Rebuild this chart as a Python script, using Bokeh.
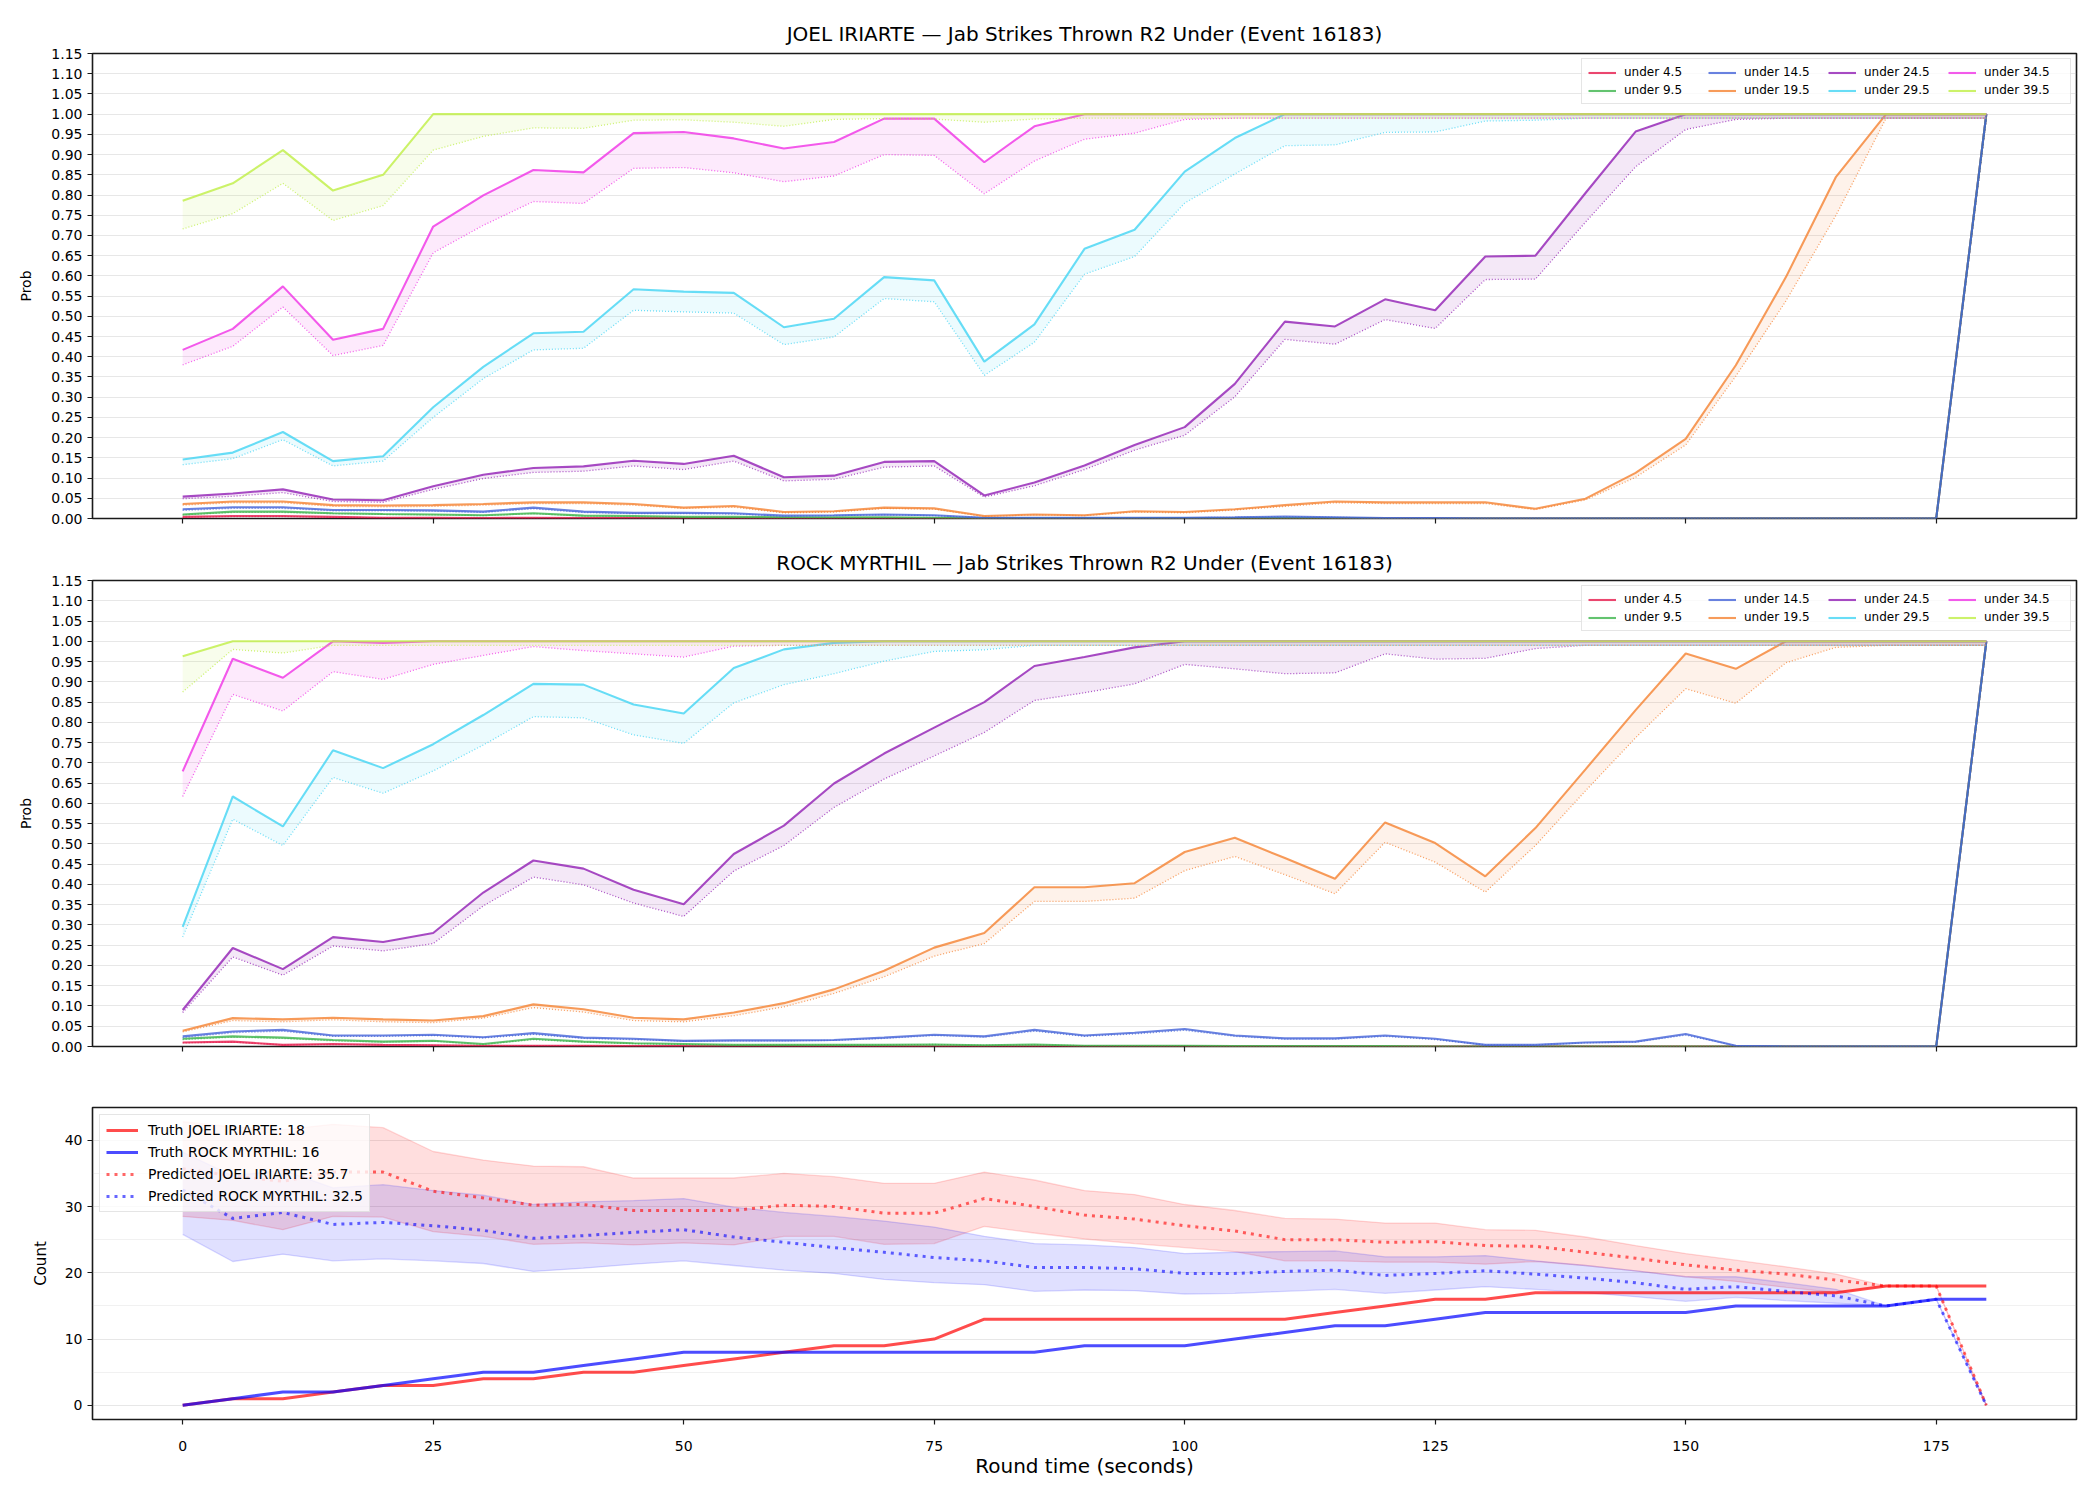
from bokeh.plotting import figure
from bokeh.models import (Range1d, FixedTicker, NumeralTickFormatter, Legend, LegendItem,
                          CustomJSTickFormatter)
from bokeh.layouts import column
from bokeh.embed import file_html
from bokeh.resources import INLINE

FONT = "DejaVu Sans"

# ---------------------------------------------------------------- data
seconds = [0, 5, 10, 15, 20, 25, 30, 35, 40, 45,
           50, 55, 60, 65, 70, 75, 80, 85, 90, 95,
           100, 105, 110, 115, 120, 125, 130, 135, 140, 145,
           150, 155, 160, 165, 170, 175, 180]

lines_labels = ["under 4.5", "under 9.5", "under 14.5", "under 19.5",
                "under 24.5", "under 29.5", "under 34.5", "under 39.5"]
line_colors = ["#e6194b", "#3cb44b", "#4363d8", "#f58231",
               "#911eb4", "#42d4f4", "#f032e6", "#bfef45"]

prob_ticks = [0.0, 0.05, 0.10, 0.15, 0.20, 0.25, 0.30, 0.35, 0.40, 0.45, 0.50, 0.55,
              0.60, 0.65, 0.70, 0.75, 0.80, 0.85, 0.90, 0.95, 1.00, 1.05, 1.10, 1.15]
time_ticks = [0, 25, 50, 75, 100, 125, 150, 175]
count_ticks = [0, 10, 20, 30, 40]
count_minor = [5, 15, 25, 35]

# JOEL IRIARTE: live probability (solid) and adjusted probability (dotted)
joel_u4 = [0.004, 0.006, 0.006, 0.004, 0.002, 0.002, 0.001, 0.002, 0.001, 0.001,
           0.001, 0.001, 0.0, 0.0, 0.0, 0.0, 0.0, 0.0, 0.0, 0.0,
           0.0, 0.0, 0.0, 0.0, 0.0, 0.0, 0.0, 0.0, 0.0, 0.0,
           0.0, 0.0, 0.0, 0.0, 0.0, 0.0, 1.0]
joel_u4_adj = [0.003, 0.005, 0.005, 0.003, 0.002, 0.001, 0.001, 0.001, 0.001, 0.001,
               0.001, 0.001, 0.0, 0.0, 0.0, 0.0, 0.0, 0.0, 0.0, 0.0,
               0.0, 0.0, 0.0, 0.0, 0.0, 0.0, 0.0, 0.0, 0.0, 0.0,
               0.0, 0.0, 0.0, 0.0, 0.0, 0.0, 0.99]
joel_u9 = [0.010, 0.017, 0.017, 0.013, 0.011, 0.010, 0.008, 0.013, 0.007, 0.006,
           0.004, 0.004, 0.003, 0.003, 0.003, 0.002, 0.001, 0.001, 0.001, 0.001,
           0.001, 0.001, 0.001, 0.001, 0.0, 0.0, 0.0, 0.0, 0.0, 0.0,
           0.0, 0.0, 0.0, 0.0, 0.0, 0.0, 1.0]
joel_u9_adj = [0.009, 0.015, 0.015, 0.012, 0.010, 0.009, 0.007, 0.012, 0.006, 0.005,
               0.004, 0.003, 0.003, 0.002, 0.002, 0.002, 0.001, 0.001, 0.001, 0.001,
               0.001, 0.001, 0.001, 0.001, 0.0, 0.0, 0.0, 0.0, 0.0, 0.0,
               0.0, 0.0, 0.0, 0.0, 0.0, 0.0, 0.99]
joel_u14 = [0.023, 0.028, 0.028, 0.021, 0.021, 0.020, 0.017, 0.027, 0.017, 0.014,
            0.014, 0.013, 0.007, 0.008, 0.010, 0.008, 0.002, 0.002, 0.002, 0.002,
            0.002, 0.003, 0.005, 0.003, 0.001, 0.001, 0.0, 0.0, 0.0, 0.0,
            0.0, 0.0, 0.0, 0.0, 0.0, 0.0, 1.0]
joel_u14_adj = [0.020, 0.025, 0.025, 0.019, 0.019, 0.018, 0.015, 0.024, 0.015, 0.012,
                0.012, 0.011, 0.006, 0.007, 0.009, 0.007, 0.002, 0.002, 0.002, 0.002,
                0.002, 0.003, 0.004, 0.003, 0.001, 0.001, 0.0, 0.0, 0.0, 0.0,
                0.0, 0.0, 0.0, 0.0, 0.0, 0.0, 0.99]
joel_u19 = [0.036, 0.042, 0.042, 0.033, 0.032, 0.033, 0.036, 0.040, 0.040, 0.036,
            0.027, 0.031, 0.016, 0.018, 0.027, 0.025, 0.006, 0.010, 0.008, 0.018,
            0.016, 0.023, 0.033, 0.042, 0.040, 0.040, 0.040, 0.024, 0.049, 0.113,
            0.197, 0.379, 0.597, 0.845, 1.0, 1.0, 1.0]
joel_u19_adj = [0.033, 0.039, 0.039, 0.030, 0.029, 0.030, 0.033, 0.037, 0.037, 0.033,
                0.025, 0.028, 0.014, 0.016, 0.025, 0.023, 0.005, 0.009, 0.007, 0.016,
                0.014, 0.021, 0.030, 0.039, 0.037, 0.037, 0.037, 0.022, 0.046, 0.102,
                0.182, 0.352, 0.538, 0.750, 0.99, 0.99, 0.99]
joel_u24 = [0.054, 0.062, 0.072, 0.047, 0.045, 0.080, 0.108, 0.125, 0.129, 0.143,
            0.135, 0.155, 0.102, 0.106, 0.140, 0.142, 0.057, 0.089, 0.131, 0.182,
            0.226, 0.333, 0.487, 0.475, 0.542, 0.515, 0.648, 0.650, 0.805, 0.957,
            1.0, 1.0, 1.0, 1.0, 1.0, 1.0, 1.0]
joel_u24_adj = [0.049, 0.055, 0.064, 0.042, 0.040, 0.072, 0.099, 0.114, 0.117, 0.130,
                0.121, 0.142, 0.093, 0.097, 0.127, 0.130, 0.053, 0.081, 0.121, 0.169,
                0.206, 0.301, 0.443, 0.431, 0.492, 0.470, 0.591, 0.592, 0.733, 0.870,
                0.962, 0.987, 0.99, 0.99, 0.99, 0.99, 0.99]
joel_u29 = [0.146, 0.163, 0.214, 0.142, 0.154, 0.275, 0.375, 0.458, 0.462, 0.567,
            0.561, 0.558, 0.473, 0.494, 0.597, 0.589, 0.388, 0.480, 0.667, 0.714,
            0.858, 0.941, 1.0, 1.0, 1.0, 1.0, 1.0, 1.0, 1.0, 1.0,
            1.0, 1.0, 1.0, 1.0, 1.0, 1.0, 1.0]
joel_u29_adj = [0.133, 0.148, 0.195, 0.130, 0.142, 0.250, 0.346, 0.417, 0.421, 0.515,
                0.511, 0.508, 0.430, 0.449, 0.544, 0.536, 0.354, 0.436, 0.604, 0.648,
                0.780, 0.852, 0.922, 0.924, 0.955, 0.956, 0.983, 0.985, 0.99, 0.99,
                0.99, 0.99, 0.99, 0.99, 0.99, 0.99, 0.99]
joel_u34 = [0.417, 0.469, 0.574, 0.442, 0.469, 0.722, 0.799, 0.862, 0.856, 0.953,
            0.956, 0.940, 0.915, 0.931, 0.989, 0.989, 0.881, 0.970, 1.0, 1.0,
            1.0, 1.0, 1.0, 1.0, 1.0, 1.0, 1.0, 1.0, 1.0, 1.0,
            1.0, 1.0, 1.0, 1.0, 1.0, 1.0, 1.0]
joel_u34_adj = [0.380, 0.426, 0.523, 0.403, 0.428, 0.657, 0.725, 0.784, 0.779, 0.866,
                0.868, 0.855, 0.833, 0.847, 0.900, 0.898, 0.803, 0.884, 0.938, 0.953,
                0.987, 0.99, 0.99, 0.99, 0.99, 0.99, 0.99, 0.99, 0.99, 0.99,
                0.99, 0.99, 0.99, 0.99, 0.99, 0.99, 0.99]
joel_u39 = [0.786, 0.829, 0.911, 0.811, 0.850, 1.0, 1.0, 1.0, 1.0, 1.0,
            1.0, 1.0, 1.0, 1.0, 1.0, 1.0, 1.0, 1.0, 1.0, 1.0,
            1.0, 1.0, 1.0, 1.0, 1.0, 1.0, 1.0, 1.0, 1.0, 1.0,
            1.0, 1.0, 1.0, 1.0, 1.0, 1.0, 1.0]
joel_u39_adj = [0.716, 0.754, 0.829, 0.737, 0.774, 0.911, 0.945, 0.966, 0.965, 0.985,
                0.986, 0.980, 0.970, 0.987, 0.989, 0.988, 0.980, 0.988, 0.99, 0.99,
                0.99, 0.99, 0.99, 0.99, 0.99, 0.99, 0.99, 0.99, 0.99, 0.99,
                0.99, 0.99, 0.99, 0.99, 0.99, 0.99, 0.99]

# ROCK MYRTHIL
rock_u4 = [0.010, 0.012, 0.004, 0.006, 0.004, 0.003, 0.002, 0.002, 0.002, 0.001,
           0.001, 0.001, 0.001, 0.0, 0.0, 0.0, 0.0, 0.0, 0.0, 0.0,
           0.0, 0.0, 0.0, 0.0, 0.0, 0.0, 0.0, 0.0, 0.0, 0.0,
           0.0, 0.0, 0.0, 0.0, 0.0, 0.0, 1.0]
rock_u4_adj = [0.009, 0.011, 0.004, 0.005, 0.004, 0.003, 0.002, 0.002, 0.002, 0.001,
               0.001, 0.001, 0.001, 0.0, 0.0, 0.0, 0.0, 0.0, 0.0, 0.0,
               0.0, 0.0, 0.0, 0.0, 0.0, 0.0, 0.0, 0.0, 0.0, 0.0,
               0.0, 0.0, 0.0, 0.0, 0.0, 0.0, 0.99]
rock_u9 = [0.019, 0.025, 0.022, 0.016, 0.012, 0.014, 0.006, 0.019, 0.012, 0.008,
           0.006, 0.004, 0.004, 0.004, 0.004, 0.005, 0.003, 0.005, 0.002, 0.002,
           0.002, 0.001, 0.001, 0.001, 0.001, 0.0, 0.0, 0.0, 0.0, 0.0,
           0.0, 0.0, 0.0, 0.0, 0.0, 0.0, 1.0]
rock_u9_adj = [0.017, 0.023, 0.020, 0.014, 0.011, 0.013, 0.005, 0.017, 0.011, 0.007,
               0.005, 0.004, 0.004, 0.004, 0.004, 0.005, 0.003, 0.004, 0.002, 0.002,
               0.002, 0.001, 0.001, 0.001, 0.001, 0.0, 0.0, 0.0, 0.0, 0.0,
               0.0, 0.0, 0.0, 0.0, 0.0, 0.0, 0.99]
rock_u14 = [0.025, 0.037, 0.041, 0.027, 0.027, 0.029, 0.023, 0.033, 0.022, 0.019,
            0.014, 0.015, 0.015, 0.016, 0.022, 0.029, 0.025, 0.041, 0.027, 0.034,
            0.043, 0.027, 0.020, 0.020, 0.027, 0.019, 0.004, 0.004, 0.010, 0.012,
            0.031, 0.002, 0.0, 0.0, 0.0, 0.0, 1.0]
rock_u14_adj = [0.022, 0.034, 0.038, 0.025, 0.025, 0.027, 0.021, 0.030, 0.020, 0.017,
                0.013, 0.014, 0.014, 0.015, 0.020, 0.027, 0.023, 0.038, 0.025, 0.031,
                0.040, 0.025, 0.018, 0.018, 0.025, 0.017, 0.004, 0.004, 0.009, 0.011,
                0.028, 0.002, 0.0, 0.0, 0.0, 0.0, 0.99]
rock_u19 = [0.039, 0.070, 0.067, 0.071, 0.067, 0.064, 0.075, 0.104, 0.092, 0.071,
            0.067, 0.084, 0.107, 0.141, 0.187, 0.244, 0.280, 0.393, 0.393, 0.403,
            0.480, 0.515, 0.465, 0.414, 0.553, 0.502, 0.420, 0.539, 0.684, 0.830,
            0.970, 0.932, 1.0, 1.0, 1.0, 1.0, 1.0]
rock_u19_adj = [0.036, 0.064, 0.061, 0.066, 0.061, 0.059, 0.070, 0.096, 0.085, 0.064,
                0.061, 0.076, 0.098, 0.131, 0.172, 0.223, 0.254, 0.358, 0.358, 0.366,
                0.434, 0.469, 0.424, 0.377, 0.504, 0.455, 0.381, 0.496, 0.631, 0.762,
                0.883, 0.847, 0.947, 0.985, 0.99, 0.99, 0.99]
rock_u24 = [0.090, 0.243, 0.191, 0.270, 0.258, 0.280, 0.380, 0.459, 0.439, 0.387,
            0.351, 0.475, 0.545, 0.649, 0.723, 0.787, 0.850, 0.939, 0.961, 0.985,
            1.0, 1.0, 1.0, 1.0, 1.0, 1.0, 1.0, 1.0, 1.0, 1.0,
            1.0, 1.0, 1.0, 1.0, 1.0, 1.0, 1.0]
rock_u24_adj = [0.084, 0.221, 0.176, 0.248, 0.236, 0.254, 0.347, 0.418, 0.399, 0.354,
                0.321, 0.433, 0.496, 0.590, 0.660, 0.717, 0.775, 0.854, 0.873, 0.895,
                0.943, 0.932, 0.920, 0.922, 0.969, 0.956, 0.958, 0.982, 0.99, 0.99,
                0.99, 0.99, 0.99, 0.99, 0.99, 0.99, 0.99]
rock_u29 = [0.295, 0.617, 0.543, 0.731, 0.687, 0.746, 0.818, 0.895, 0.893, 0.844,
            0.822, 0.934, 0.980, 0.996, 1.0, 1.0, 1.0, 1.0, 1.0, 1.0,
            1.0, 1.0, 1.0, 1.0, 1.0, 1.0, 1.0, 1.0, 1.0, 1.0,
            1.0, 1.0, 1.0, 1.0, 1.0, 1.0, 1.0]
rock_u29_adj = [0.270, 0.561, 0.496, 0.664, 0.625, 0.680, 0.744, 0.814, 0.811, 0.769,
                0.748, 0.848, 0.893, 0.920, 0.951, 0.975, 0.979, 0.990, 0.99, 0.99,
                0.99, 0.99, 0.99, 0.99, 0.99, 0.99, 0.99, 0.99, 0.99, 0.99,
                0.99, 0.99, 0.99, 0.99, 0.99, 0.99, 0.99]
rock_u34 = [0.679, 0.957, 0.910, 1.0, 0.996, 1.0, 1.0, 1.0, 1.0, 1.0,
            1.0, 1.0, 1.0, 1.0, 1.0, 1.0, 1.0, 1.0, 1.0, 1.0,
            1.0, 1.0, 1.0, 1.0, 1.0, 1.0, 1.0, 1.0, 1.0, 1.0,
            1.0, 1.0, 1.0, 1.0, 1.0, 1.0, 1.0]
rock_u34_adj = [0.617, 0.869, 0.828, 0.925, 0.906, 0.943, 0.965, 0.987, 0.977, 0.969,
                0.961, 0.988, 0.99, 0.99, 0.99, 0.99, 0.99, 0.99, 0.99, 0.99,
                0.99, 0.99, 0.99, 0.99, 0.99, 0.99, 0.99, 0.99, 0.99, 0.99,
                0.99, 0.99, 0.99, 0.99, 0.99, 0.99, 0.99]
rock_u39 = [0.963, 1.0, 1.0, 1.0, 1.0, 1.0, 1.0, 1.0, 1.0, 1.0,
            1.0, 1.0, 1.0, 1.0, 1.0, 1.0, 1.0, 1.0, 1.0, 1.0,
            1.0, 1.0, 1.0, 1.0, 1.0, 1.0, 1.0, 1.0, 1.0, 1.0,
            1.0, 1.0, 1.0, 1.0, 1.0, 1.0, 1.0]
rock_u39_adj = [0.875, 0.980, 0.971, 0.99, 0.99, 0.99, 0.99, 0.99, 0.99, 0.99,
                0.99, 0.99, 0.99, 0.99, 0.99, 0.99, 0.99, 0.99, 0.99, 0.99,
                0.99, 0.99, 0.99, 0.99, 0.99, 0.99, 0.99, 0.99, 0.99, 0.99,
                0.99, 0.99, 0.99, 0.99, 0.99, 0.99, 0.99]

# Running jab counts and the model's projected final count with its band
truth_joel = [0, 1, 1, 2, 3, 3, 4, 4, 5, 5,
              6, 7, 8, 9, 9, 10, 13, 13, 13, 13,
              13, 13, 13, 14, 15, 16, 16, 17, 17, 17,
              17, 17, 17, 17, 18, 18, 18]
truth_rock = [0, 1, 2, 2, 3, 4, 5, 5, 6, 7,
              8, 8, 8, 8, 8, 8, 8, 8, 9, 9,
              9, 10, 11, 12, 12, 13, 14, 14, 14, 14,
              14, 15, 15, 15, 15, 16, 16]
pred_joel = [35.7, 34.6, 33.8, 35.2, 35.2, 32.3, 31.3, 30.2, 30.3, 29.4,
             29.4, 29.4, 30.2, 30.0, 29.0, 29.0, 31.2, 30.0, 28.7, 28.1,
             27.1, 26.3, 25.0, 25.0, 24.6, 24.7, 24.1, 24.0, 23.1, 22.2,
             21.2, 20.4, 19.8, 18.9, 18.0, 18.0, 0.0]
pred_rock = [32.5, 28.2, 29.1, 27.3, 27.6, 27.1, 26.4, 25.2, 25.6, 26.1,
             26.5, 25.4, 24.6, 23.8, 23.1, 22.3, 21.8, 20.8, 20.8, 20.6,
             19.9, 19.9, 20.2, 20.4, 19.6, 19.9, 20.3, 19.8, 19.2, 18.5,
             17.5, 17.9, 17.2, 16.5, 15.0, 16.0, 0.0]
joel_hi = [42.8, 42.0, 41.6, 42.4, 41.9, 38.3, 37.0, 36.1, 36.0, 34.3,
           34.3, 34.3, 35.0, 34.5, 33.5, 33.5, 35.2, 34.0, 32.4, 31.8,
           30.3, 29.4, 28.2, 28.1, 27.5, 27.5, 26.5, 26.4, 25.4, 24.1,
           22.9, 21.9, 20.9, 19.8, 18.0, 18.0, 0.0]
joel_lo = [28.5, 27.9, 26.5, 28.5, 28.4, 26.2, 25.5, 24.3, 24.5, 24.2,
           24.5, 24.2, 25.5, 25.5, 24.3, 24.4, 27.0, 26.0, 25.1, 24.4,
           23.8, 23.2, 21.8, 21.8, 21.6, 21.6, 21.3, 21.7, 21.1, 20.3,
           19.4, 18.7, 17.8, 17.0, 18.0, 18.0, 0.0]
rock_hi = [38.2, 34.6, 35.5, 32.8, 33.3, 32.4, 31.7, 30.3, 30.7, 30.9,
           31.2, 29.9, 29.1, 28.5, 27.8, 26.9, 25.5, 24.4, 24.2, 23.8,
           22.9, 23.1, 23.2, 23.3, 22.4, 22.4, 22.6, 21.8, 21.1, 20.3,
           19.4, 19.4, 18.5, 17.5, 15.0, 16.0, 0.0]
rock_lo = [25.8, 21.7, 22.8, 21.8, 22.1, 21.8, 21.4, 20.2, 20.7, 21.3,
           21.8, 21.1, 20.4, 19.9, 19.0, 18.5, 18.2, 17.2, 17.4, 17.3,
           16.8, 16.9, 17.2, 17.5, 16.9, 17.4, 17.9, 17.5, 17.0, 16.4,
           15.7, 16.3, 15.8, 15.4, 15.0, 16.0, 0.0]

joel_live = [joel_u4, joel_u9, joel_u14, joel_u19, joel_u24, joel_u29, joel_u34, joel_u39]
joel_adj = [joel_u4_adj, joel_u9_adj, joel_u14_adj, joel_u19_adj,
            joel_u24_adj, joel_u29_adj, joel_u34_adj, joel_u39_adj]
rock_live = [rock_u4, rock_u9, rock_u14, rock_u19, rock_u24, rock_u29, rock_u34, rock_u39]
rock_adj = [rock_u4_adj, rock_u9_adj, rock_u14_adj, rock_u19_adj,
            rock_u24_adj, rock_u29_adj, rock_u34_adj, rock_u39_adj]

# ---------------------------------------------------------------- layout
WIDTH = 2100
LEFT, RIGHT = 92, 24
INK = "#1a1a1a"


def base_figure(height, top, bottom, y_range, title=None, standoff=8):
    kw = dict(width=WIDTH, height=height, x_range=Range1d(-9, 189), y_range=y_range,
              output_backend="svg", toolbar_location=None, tools="",
              min_border_left=LEFT, min_border_right=RIGHT,
              min_border_top=top, min_border_bottom=bottom,
              background_fill_color="white", border_fill_color="white")
    if title:
        kw["title"] = title
    p = figure(**kw)
    p.outline_line_color = INK
    p.outline_line_width = 1.6
    for ax in (p.xaxis, p.yaxis):
        ax.axis_line_color = None
        ax.major_tick_line_color = INK
        ax.major_tick_line_width = 1.2
        ax.major_tick_out = 5
        ax.major_tick_in = 0
        ax.minor_tick_line_color = None
        ax.major_label_text_font = FONT
        ax.major_label_text_font_size = "14px"
        ax.major_label_text_color = "black"
        ax.major_label_standoff = 5
        ax.axis_label_text_font = FONT
        ax.axis_label_text_font_style = "normal"
        ax.axis_label_text_color = "black"
    p.xaxis.ticker = FixedTicker(ticks=time_ticks)
    p.xgrid.visible = False
    p.ygrid.grid_line_color = "#b0b0b0"
    p.ygrid.grid_line_alpha = 0.3
    p.ygrid.grid_line_width = 1.1
    if title:
        p.title.text_font = FONT
        p.title.text_font_size = "20px"
        p.title.text_font_style = "normal"
        p.title.text_color = "black"
        p.title.align = "center"
        p.title.standoff = standoff
    return p


def prob_panel(title, live, adj, height, top, bottom, standoff):
    p = base_figure(height, top, bottom, Range1d(0, 1.15), title, standoff)
    p.yaxis.ticker = FixedTicker(ticks=prob_ticks)
    p.ygrid.ticker = FixedTicker(ticks=prob_ticks)
    p.yaxis.formatter = NumeralTickFormatter(format="0.00")
    p.xaxis.formatter = CustomJSTickFormatter(code="return ''")
    p.yaxis.axis_label = "Prob"
    p.yaxis.axis_label_text_font_size = "14px"
    p.yaxis.axis_label_standoff = 14
    items = []
    for lab, col, solid, dotted in zip(lines_labels, line_colors, live, adj):
        p.varea(x=seconds, y1=dotted, y2=solid, fill_color=col, fill_alpha=0.1)
        r = p.line(seconds, solid, line_color=col, line_width=2.1, line_alpha=0.8)
        p.line(seconds, dotted, line_color=col, line_width=1.3, line_alpha=0.75,
               line_dash="1 2")
        items.append(LegendItem(label=lab, renderers=[r]))
    leg = Legend(items=items, location="top_right", orientation="vertical", nrows=2,
                 label_text_font=FONT, label_text_font_size="12px",
                 label_text_color="black", label_height=13, label_width=80,
                 glyph_height=13, glyph_width=28, label_standoff=8, spacing=4,
                 padding=6, margin=5, border_line_color="#cccccc",
                 border_line_width=1.2, background_fill_alpha=0.8)
    p.add_layout(leg)
    return p


p1 = prob_panel("JOEL IRIARTE \u2014 Jab Strikes Thrown R2 Under (Event 16183)",
                joel_live, joel_adj, 532, 53, 14, 15)
p2 = prob_panel("ROCK MYRTHIL \u2014 Jab Strikes Thrown R2 Under (Event 16183)",
                rock_live, rock_adj, 528, 48, 14, 12)

# counts panel
p3 = base_figure(440, 47, 81, Range1d(-2.14, 44.94))
p3.yaxis.ticker = FixedTicker(ticks=count_ticks, minor_ticks=count_minor)
p3.ygrid.ticker = FixedTicker(ticks=count_ticks, minor_ticks=count_minor)
p3.ygrid.minor_grid_line_color = "#b0b0b0"
p3.ygrid.minor_grid_line_alpha = 0.18
p3.yaxis.axis_label = "Count"
p3.yaxis.axis_label_text_font_size = "15px"
p3.yaxis.axis_label_standoff = 12
p3.xaxis.axis_label = "Round time (seconds)"
p3.xaxis.axis_label_text_font_size = "20px"
p3.xaxis.axis_label_standoff = 0
p3.xaxis.major_label_standoff = 16

RED, BLUE = "#ff0000", "#0000ff"
p3.varea(x=seconds, y1=joel_lo, y2=joel_hi, fill_color=RED, fill_alpha=0.13)
p3.line(seconds, joel_hi, line_color=RED, line_alpha=0.15, line_width=1.3)
p3.line(seconds, joel_lo, line_color=RED, line_alpha=0.15, line_width=1.3)
p3.varea(x=seconds, y1=rock_lo, y2=rock_hi, fill_color=BLUE, fill_alpha=0.12)
p3.line(seconds, rock_hi, line_color=BLUE, line_alpha=0.15, line_width=1.3)
p3.line(seconds, rock_lo, line_color=BLUE, line_alpha=0.15, line_width=1.3)

r_tj = p3.line(seconds, truth_joel, line_color=RED, line_alpha=0.7, line_width=3)
r_tr = p3.line(seconds, truth_rock, line_color=BLUE, line_alpha=0.7, line_width=3)
r_pj = p3.line(seconds, pred_joel, line_color=RED, line_alpha=0.6, line_width=3,
               line_dash="3 5")
r_pr = p3.line(seconds, pred_rock, line_color=BLUE, line_alpha=0.6, line_width=3,
               line_dash="3 5")

leg3 = Legend(items=[
    LegendItem(label=f"Truth JOEL IRIARTE: {truth_joel[-1]}", renderers=[r_tj]),
    LegendItem(label=f"Truth ROCK MYRTHIL: {truth_rock[-1]}", renderers=[r_tr]),
    LegendItem(label=f"Predicted JOEL IRIARTE: {pred_joel[0]}", renderers=[r_pj]),
    LegendItem(label=f"Predicted ROCK MYRTHIL: {pred_rock[0]}", renderers=[r_pr]),
], location="top_left", label_text_font=FONT, label_text_font_size="14px",
    label_text_color="black", label_height=18, glyph_height=18, glyph_width=32,
    label_standoff=10, spacing=4, padding=6, margin=7,
    border_line_color="#cccccc", border_line_width=1.2, background_fill_alpha=0.8)
p3.add_layout(leg3)

layout = column(p1, p2, p3, spacing=0)
open("out.html", "w").write(file_html(layout, INLINE))
